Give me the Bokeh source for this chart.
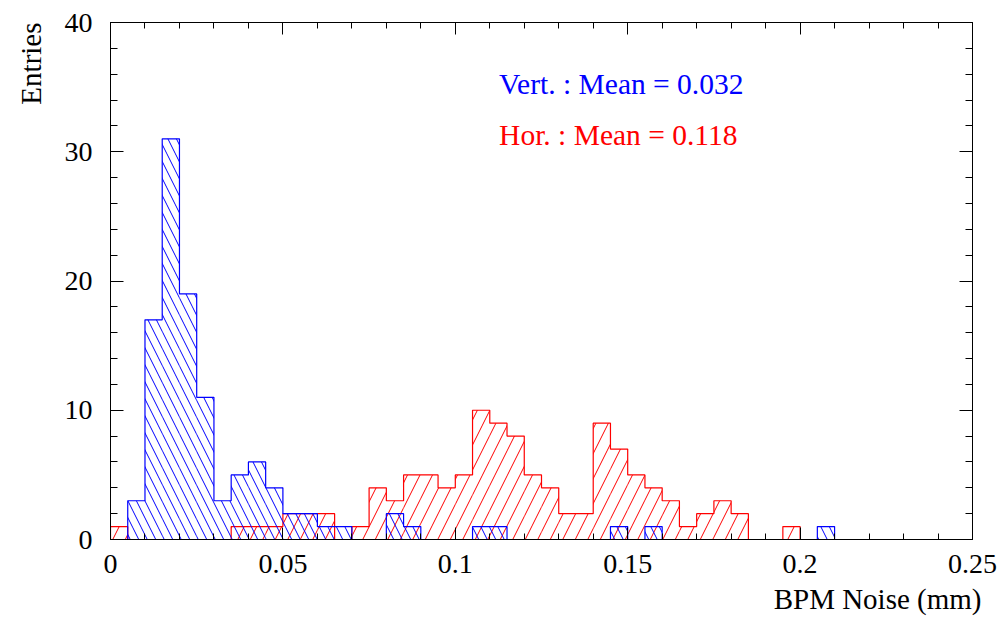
import numpy as np
from bokeh.plotting import figure
from bokeh.models import LinearAxis, FixedTicker, Label, ColumnDataSource, Title
from bokeh.embed import file_html
from bokeh.resources import INLINE

# ---------------- data ----------------
bin_width = 0.005
x_min, x_max = 0.0, 0.25
y_min, y_max = 0, 40

vert_counts = [0, 3, 17, 31, 19, 11, 3, 5, 6, 4,
               2, 2, 1, 1, 0, 0, 2, 1, 0, 0,
               0, 1, 1, 0, 0, 0, 0, 0, 0, 1,
               0, 1, 0, 0, 0, 0, 0, 0, 0, 0,
               0, 1, 0, 0, 0, 0, 0, 0, 0, 0]
hor_counts = [1, 0, 0, 0, 0, 0, 0, 1, 1, 1,
              2, 2, 2, 0, 1, 4, 3, 5, 5, 4,
              5, 10, 9, 8, 5, 4, 2, 2, 9, 7,
              5, 4, 3, 1, 2, 3, 2, 0, 0, 1,
              0, 0, 0, 0, 0, 0, 0, 0, 0, 0]

x_ticks = [0, 0.05, 0.1, 0.15, 0.2, 0.25]
x_tick_labels = ["0", "0.05", "0.1", "0.15", "0.2", "0.25"]
x_minor_step = 0.01
y_ticks = [0, 10, 20, 30, 40]
y_minor_step = 2

vert_text = "Vert. : Mean = 0.032"
hor_text = "Hor. : Mean = 0.118"
x_title = "BPM Noise (mm)"
y_title = "Entries"

BLUE = "#0000ff"
RED = "#ff0000"
FONT = "Liberation Serif"

# ---------------- figure ----------------
p = figure(width=1002, height=628, x_range=(x_min, x_max), y_range=(y_min, y_max),
           output_backend="svg", toolbar_location=None,
           min_border_left=110, min_border_right=30, min_border_top=22, min_border_bottom=89)
p.grid.visible = False
p.outline_line_color = "black"
p.outline_line_width = 1
p.background_fill_color = "white"
p.border_fill_color = "white"


def hist_sources(counts):
    counts = np.asarray(counts, dtype=float)
    n = len(counts)
    left = np.arange(n) * bin_width
    right = left + bin_width
    quad_src = ColumnDataSource(dict(left=left, right=right, top=counts, bottom=np.zeros(n)))
    xs = [left[0]]
    ys = [0.0]
    for l, r, c in zip(left, right, counts):
        xs += [l, r]
        ys += [c, c]
    xs.append(right[-1])
    ys.append(0.0)
    return quad_src, xs, ys


red_src, red_xs, red_ys = hist_sources(hor_counts)
blue_src, blue_xs, blue_ys = hist_sources(vert_counts)

p.quad(left="left", right="right", top="top", bottom="bottom", source=red_src,
       fill_alpha=0, line_color=None, hatch_pattern="right_diagonal_line",
       hatch_color=RED, hatch_scale=25, hatch_weight=1)
p.line(red_xs, red_ys, line_color=RED, line_width=1.2)

p.quad(left="left", right="right", top="top", bottom="bottom", source=blue_src,
       fill_alpha=0, line_color=None, hatch_pattern="left_diagonal_line",
       hatch_color=BLUE, hatch_scale=17, hatch_weight=1)
p.line(blue_xs, blue_ys, line_color=BLUE, line_width=1.2)

# ---------------- axes ----------------
x_minor = list(np.round(np.arange(x_min, x_max + 1e-9, x_minor_step), 3))
y_minor = list(range(y_min, y_max + 1, y_minor_step))

xt = FixedTicker(ticks=x_ticks, minor_ticks=x_minor)
yt = FixedTicker(ticks=y_ticks, minor_ticks=y_minor)

overrides = {t: s for t, s in zip(x_ticks, x_tick_labels)}


def style_axis(ax, major_len, minor_len):
    ax.axis_line_color = "black"
    ax.axis_line_width = 1
    ax.major_tick_in = major_len
    ax.major_tick_out = 0
    ax.minor_tick_in = minor_len
    ax.minor_tick_out = 0
    ax.major_tick_line_color = "black"
    ax.minor_tick_line_color = "black"
    ax.major_tick_line_width = 1
    ax.minor_tick_line_width = 1
    ax.major_label_text_font = FONT
    ax.major_label_text_font_size = "28px"
    ax.major_label_text_color = "black"


xa = p.xaxis[0]
xa.ticker = xt
xa.major_label_overrides = overrides
style_axis(xa, 12, 6)
xa.major_label_standoff = 15

ya = p.yaxis[0]
ya.ticker = yt
style_axis(ya, 13, 7)
ya.major_label_standoff = 18

top_ax = LinearAxis(ticker=FixedTicker(ticks=x_ticks, minor_ticks=x_minor))
style_axis(top_ax, 12, 6)
top_ax.major_label_overrides = {t: "" for t in x_ticks}
top_ax.major_label_standoff = 0
p.add_layout(top_ax, "above")

right_ax = LinearAxis(ticker=FixedTicker(ticks=y_ticks, minor_ticks=y_minor))
style_axis(right_ax, 13, 7)
right_ax.major_label_overrides = {t: "" for t in y_ticks}
right_ax.major_label_standoff = 0
p.add_layout(right_ax, "right")

# ---------------- titles ----------------
p.add_layout(Title(text=x_title, align="right", offset=-9, standoff=10,
                   text_font=FONT, text_font_size="29px", text_font_style="normal",
                   text_color="black"), "below")
p.add_layout(Title(text=y_title, align="right", offset=0, standoff=26,
                   vertical_align="top",
                   text_font=FONT, text_font_size="29px", text_font_style="normal",
                   text_color="black"), "left")

# ---------------- stats texts ----------------
p.add_layout(Label(x=0.1127, y=35.26, text=vert_text, text_align="left",
                   text_baseline="alphabetic", text_font=FONT, text_font_size="29.5px",
                   text_color=BLUE))
p.add_layout(Label(x=0.1127, y=31.26, text=hor_text, text_align="left",
                   text_baseline="alphabetic", text_font=FONT, text_font_size="29.5px",
                   text_color=RED))

open("out.html", "w").write(file_html(p, INLINE))
